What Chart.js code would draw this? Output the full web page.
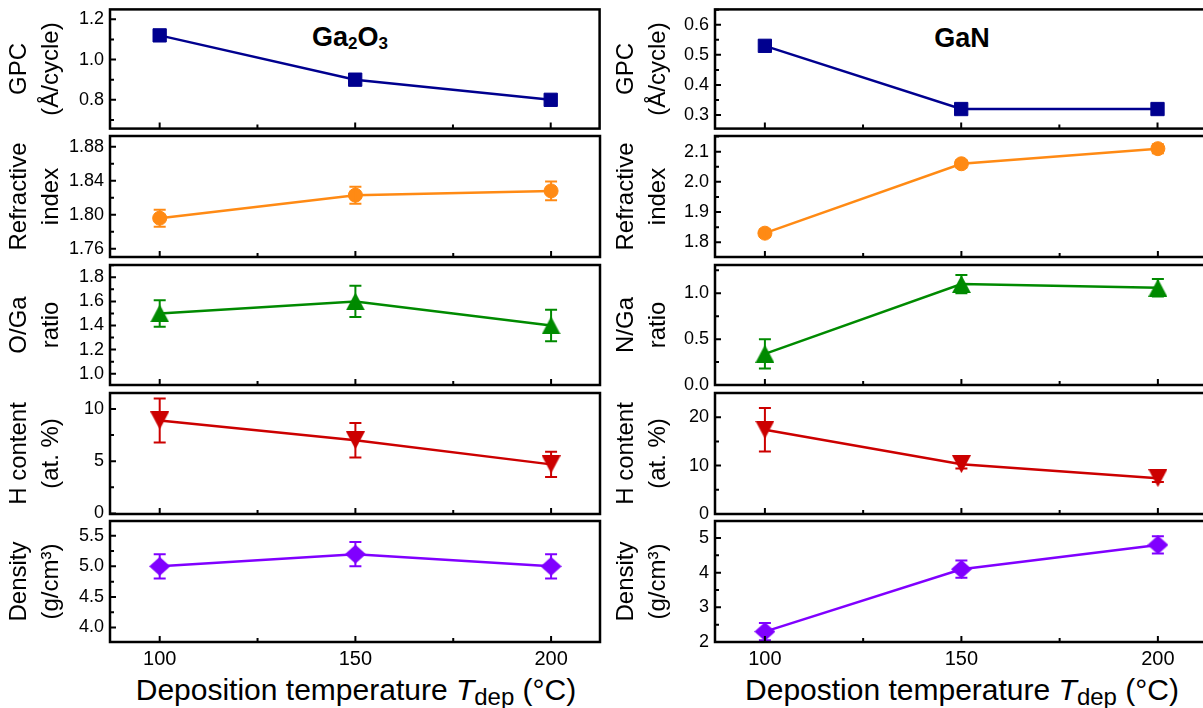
<!DOCTYPE html>
<html>
<head>
<meta charset="utf-8">
<script src="https://cdn.jsdelivr.net/npm/chart.js@4.4.1/dist/chart.umd.min.js"></script>
<style>
html, body { margin: 0; padding: 0; background: #fff; overflow: hidden; }
#wrap { position: relative; width: 1203px; height: 708px; overflow: hidden; font-family: "Liberation Sans", Arial, sans-serif; color: #000; }
#wrap canvas { position: absolute; }
.xt { position: absolute; width: 600px; text-align: center; font-size: 30px; line-height: 30px; white-space: nowrap; }
.xt .sub { font-size: 24px; position: relative; top: 5px; }
.lbl { position: absolute; width: 200px; text-align: center; font-weight: bold; font-size: 27px; line-height: 27px; white-space: nowrap; }
.lbl .s { font-size: 17px; position: relative; top: 3px; }
</style>
</head>
<body>
<div id="wrap">
  <div class="lbl" style="left:250px;top:24px">Ga<span class="s">2</span>O<span class="s">3</span></div>
  <div class="lbl" style="left:862px;top:25px">GaN</div>
  <div class="xt" style="left:56px;top:675px">Deposition temperature <i>T</i><span class="sub">dep</span> (°C)</div>
  <div class="xt" style="left:662px;top:675px">Depostion temperature <i>T</i><span class="sub">dep</span> (°C)</div>
</div>
<script>
var FONT = '"Liberation Sans", Arial, sans-serif';

var temps = [100, 150, 200];
var xTicks = [100, 150, 200];

// Ga2O3 (left column)
var gaoGpc = [1.12, 0.90, 0.80];
var gaoRi = [1.796, 1.823, 1.828];
var gaoRiErr = [0.010, 0.010, 0.011];
var gaoRatio = [1.50, 1.60, 1.40];
var gaoRatioErr = [0.11, 0.13, 0.13];
var gaoH = [8.9, 7.0, 4.7];
var gaoHErr = [2.1, 1.65, 1.2];
var gaoDens = [5.0, 5.2, 5.0];
var gaoDensErr = [0.2, 0.2, 0.2];

var gaoGpcTicks = [0.8, 1.0, 1.2];
var gaoRiTicks = [1.76, 1.80, 1.84, 1.88];
var gaoRatioTicks = [1.0, 1.2, 1.4, 1.6, 1.8];
var gaoHTicks = [0, 5, 10];
var gaoDensTicks = [4.0, 4.5, 5.0, 5.5];

// GaN (right column)
var ganGpc = [0.53, 0.32, 0.32];
var ganRi = [1.83, 2.06, 2.11];
var ganRiErr = [0.012, 0.012, 0.015];
var ganRatio = [0.34, 1.10, 1.06];
var ganRatioErr = [0.16, 0.10, 0.095];
var ganH = [17.4, 10.3, 7.4];
var ganHErr = [4.5, 0.9, 0.8];
var ganDens = [2.3, 4.1, 4.8];
var ganDensErr = [0.25, 0.25, 0.25];

var ganGpcTicks = [0.3, 0.4, 0.5, 0.6];
var ganRiTicks = [1.8, 1.9, 2.0, 2.1];
var ganRatioTicks = [0.0, 0.5, 1.0];
var ganHTicks = [0, 10, 20];
var ganDensTicks = [2, 3, 4, 5];

var BLUE = '#00008f', ORANGE = '#ff8a14', GREEN = '#008a00', RED = '#cc0000', PURPLE = '#8000ff';

// small marker images for triangles / diamond
function markerCanvas(kind, color, w, h) {
  var c = document.createElement('canvas');
  c.width = w; c.height = h;
  var g = c.getContext('2d');
  g.fillStyle = color;
  g.beginPath();
  if (kind === 'up') { g.moveTo(w / 2, 0); g.lineTo(w, h); g.lineTo(0, h); }
  else if (kind === 'down') { g.moveTo(0, 0); g.lineTo(w, 0); g.lineTo(w / 2, h); }
  else { g.moveTo(w / 2, 0); g.lineTo(w, h / 2); g.lineTo(w / 2, h); g.lineTo(0, h / 2); }
  g.closePath();
  g.fill();
  return c;
}

var framePlugin = {
  id: 'frame',
  afterDraw: function(chart) {
    var a = chart.chartArea, ctx = chart.ctx;
    var xs = chart.scales.x, ys = chart.scales.y;
    ctx.save();
    ctx.strokeStyle = '#000';
    ctx.lineWidth = 2;
    ctx.beginPath();
    [xs, ys].forEach(function(s) {
      var vals = s.ticks.map(function(t) { return t.value; });
      var step = vals[1] - vals[0];
      var minors = [];
      vals.forEach(function(v) {
        [v - step / 2, v + step / 2].forEach(function(m) {
          if (m > s.min && m < s.max && minors.indexOf(m) < 0) minors.push(m);
        });
      });
      vals.forEach(function(v) {
        var p = s.getPixelForValue(v);
        if (s === xs) { ctx.moveTo(p, a.bottom); ctx.lineTo(p, a.bottom - 6); }
        else { ctx.moveTo(a.left, p); ctx.lineTo(a.left + 6, p); }
      });
      minors.forEach(function(v) {
        var p = s.getPixelForValue(v);
        if (s === xs) { ctx.moveTo(p, a.bottom); ctx.lineTo(p, a.bottom - 4); }
        else { ctx.moveTo(a.left, p); ctx.lineTo(a.left + 4, p); }
      });
    });
    ctx.stroke();
    ctx.lineWidth = 2.5;
    ctx.strokeRect(a.left, a.top, a.right - a.left, a.bottom - a.top);
    ctx.restore();
  }
};

var errorPlugin = {
  id: 'errbars',
  afterDatasetsDraw: function(chart) {
    var ctx = chart.ctx, ys = chart.scales.y;
    chart.data.datasets.forEach(function(ds, di) {
      if (!ds.errors) return;
      var meta = chart.getDatasetMeta(di);
      ctx.save();
      ctx.strokeStyle = ds.borderColor;
      ctx.lineWidth = 2;
      ctx.beginPath();
      meta.data.forEach(function(pt, i) {
        var v = ds.data[i].y, e = ds.errors[i];
        var top = ys.getPixelForValue(v + e), bot = ys.getPixelForValue(v - e);
        ctx.moveTo(pt.x, top); ctx.lineTo(pt.x, bot);
        ctx.moveTo(pt.x - 6, top); ctx.lineTo(pt.x + 6, top);
        ctx.moveTo(pt.x - 6, bot); ctx.lineTo(pt.x + 6, bot);
      });
      ctx.stroke();
      ctx.restore();
    });
  }
};

var cols = [
  { left: 0, width: 610, titlePad: 3 },
  { left: 605, width: 612, titlePad: 5 }
];
var rowTops = [9, 136, 265, 393, 521];
var rowHeights = [120, 121, 120, 121, 121];

function makePanel(colIdx, rowIdx, p) {
  var col = cols[colIdx];
  var last = rowIdx === 4;
  var cv = document.createElement('canvas');
  cv.width = col.width;
  cv.height = rowHeights[rowIdx] + (last ? 55 : 20);
  cv.style.left = col.left + 'px';
  cv.style.top = (rowTops[rowIdx] - 10) + 'px';
  document.getElementById('wrap').appendChild(cv);

  new Chart(cv, {
    type: 'line',
    data: {
      datasets: [{
        data: temps.map(function(t, i) { return { x: t, y: p.values[i] }; }),
        errors: p.errors,
        borderColor: p.color,
        backgroundColor: p.color,
        pointBackgroundColor: p.color,
        pointBorderColor: p.color,
        pointBorderWidth: 1,
        borderWidth: 2.5,
        pointStyle: p.marker,
        pointRadius: p.radius,
        pointHoverRadius: p.radius,
        tension: 0,
        clip: false
      }]
    },
    options: {
      responsive: false,
      animation: false,
      devicePixelRatio: 1,
      layout: { padding: { top: 10, right: 10, bottom: last ? 0 : 10, left: 0 } },
      plugins: { legend: { display: false }, tooltip: { enabled: false } },
      scales: {
        x: {
          type: 'linear', min: 87.3, max: 212.5,
          grid: { display: false, drawTicks: false },
          border: { display: false },
          afterBuildTicks: function(s) { s.ticks = xTicks.map(function(v) { return { value: v }; }); },
          afterFit: function(s) {
            s.height = last ? 45 : 0;
            s.paddingLeft = 0; s.paddingRight = 0;
          },
          ticks: {
            display: last, padding: 5, color: '#000',
            font: { size: 20, family: FONT },
            callback: function(v) { return String(v); }
          }
        },
        y: {
          type: 'linear', min: p.min, max: p.max,
          grid: { display: false, drawTicks: false },
          border: { display: false },
          afterBuildTicks: function(s) { s.ticks = p.ticks.map(function(v) { return { value: v }; }); },
          afterFit: function(s) {
            s.width = 110;
            s.paddingTop = 0; s.paddingBottom = 0;
          },
          ticks: {
            padding: 6, color: '#000',
            font: { size: 18, family: FONT },
            callback: function(v) { return Number(v).toFixed(p.dec); }
          },
          title: {
            display: true, text: p.title, color: '#000',
            font: { size: 24, family: FONT, lineHeight: 1.35 },
            padding: { top: col.titlePad, bottom: 0 }
          }
        }
      }
    },
    plugins: [framePlugin, errorPlugin]
  });
}

var upG = markerCanvas('up', GREEN, 19, 18);
var downR = markerCanvas('down', RED, 19, 18);
var diaP = markerCanvas('dia', PURPLE, 21, 19);

// left column: Ga2O3
makePanel(0, 0, { values: gaoGpc, errors: null, ticks: gaoGpcTicks, min: 0.657, max: 1.249, dec: 1, color: BLUE, marker: 'rect', radius: 9.4, title: ['GPC', '(Å/cycle)'] });
makePanel(0, 1, { values: gaoRi, errors: gaoRiErr, ticks: gaoRiTicks, min: 1.7504, max: 1.8925, dec: 2, color: ORANGE, marker: 'circle', radius: 7, title: ['Refractive', 'index'] });
makePanel(0, 2, { values: gaoRatio, errors: gaoRatioErr, ticks: gaoRatioTicks, min: 0.906, max: 1.902, dec: 1, color: GREEN, marker: upG, radius: 9, title: ['O/Ga', 'ratio'] });
makePanel(0, 3, { values: gaoH, errors: gaoHErr, ticks: gaoHTicks, min: -0.05, max: 11.53, dec: 0, color: RED, marker: downR, radius: 9, title: ['H content', '(at. %)'] });
makePanel(0, 4, { values: gaoDens, errors: gaoDensErr, ticks: gaoDensTicks, min: 3.763, max: 5.742, dec: 1, color: PURPLE, marker: diaP, radius: 9, title: ['Density', '(g/cm³)'] });

// right column: GaN
makePanel(1, 0, { values: ganGpc, errors: null, ticks: ganGpcTicks, min: 0.255, max: 0.651, dec: 1, color: BLUE, marker: 'rect', radius: 9.4, title: ['GPC', '(Å/cycle)'] });
makePanel(1, 1, { values: ganRi, errors: ganRiErr, ticks: ganRiTicks, min: 1.751, max: 2.152, dec: 1, color: ORANGE, marker: 'circle', radius: 7, title: ['Refractive', 'index'] });
makePanel(1, 2, { values: ganRatio, errors: ganRatioErr, ticks: ganRatioTicks, min: 0, max: 1.308, dec: 1, color: GREEN, marker: upG, radius: 9, title: ['N/Ga', 'ratio'] });
makePanel(1, 3, { values: ganH, errors: ganHErr, ticks: ganHTicks, min: 0, max: 25, dec: 0, color: RED, marker: downR, radius: 9, title: ['H content', '(at. %)'] });
makePanel(1, 4, { values: ganDens, errors: ganDensErr, ticks: ganDensTicks, min: 2, max: 5.49, dec: 0, color: PURPLE, marker: diaP, radius: 9, title: ['Density', '(g/cm³)'] });
</script>
</body>
</html>
